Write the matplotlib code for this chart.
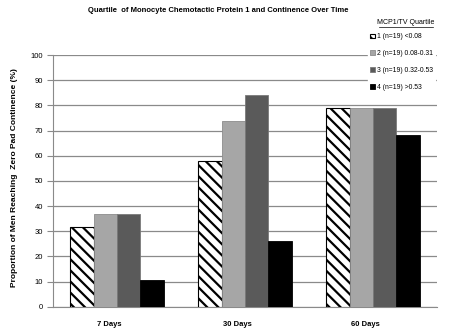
import matplotlib
matplotlib.use("Agg")
import matplotlib.pyplot as plt
import numpy as np

categories = ["7 Days", "30 Days", "60 Days"]
series_labels = ["1 (n=19) <0.08", "2 (n=19) 0.08-0.31", "3 (n=19) 0.32-0.53", "4 (n=19) >0.53"]
q1 = [31.6, 57.9, 78.9]
q2 = [36.8, 73.7, 78.9]
q3 = [36.8, 84.2, 78.9]
q4 = [10.5, 26.3, 68.4]
yticks = [0, 10, 20, 30, 40, 50, 60, 70, 80, 90, 100]

plt.rcParams['font.family'] = ['Liberation Sans', 'DejaVu Sans']
plt.rcParams['hatch.linewidth'] = 1.6

fig = plt.figure(figsize=(4.57, 3.31), dpi=100)
ax = fig.add_axes([53/457, 1 - 306.7/331, (437-53)/457, (306.7-55)/331])

x = np.arange(len(categories))
w = 0.182
offs = [-1.5, -0.5, 0.5, 1.5]
series = [q1, q2, q3, q4]
styles = [
    dict(color="white", edgecolor="black", hatch="\\\\\\", linewidth=0.8),
    dict(color="#A6A6A6", edgecolor="#8C8C8C", linewidth=0.6),
    dict(color="#5A5A5A", edgecolor="#7A7A7A", linewidth=0.6),
    dict(color="black", edgecolor="black", linewidth=0.6),
]
handles = []
for s, o, st, lab in zip(series, offs, styles, series_labels):
    h = ax.bar(x + o * w, s, w, label=lab, zorder=3, **st)
    handles.append(h)

ax.set_xlim(-0.5, 2.5)
ax.set_ylim(0, 100)
ax.set_yticks(yticks)
ax.yaxis.grid(True, color="#8A8A8A", linewidth=0.9, zorder=0)
ax.set_axisbelow(True)
ax.set_xticks(x - 0.06)
ax.set_xticklabels(categories, fontsize=5.5, fontweight="bold")
ax.tick_params(axis="x", length=0, pad=10)
ax.tick_params(axis="y", labelsize=5.5, length=4, color="#8A8A8A", pad=3)
for sp in ["top", "right"]:
    ax.spines[sp].set_visible(False)
ax.spines["left"].set_color("#8A8A8A")
ax.spines["bottom"].set_color("#8A8A8A")

fig.text(218/457, 1 - 10/331, "Quartile  of Monocyte Chemotactic Protein 1 and Continence Over Time",
         ha="center", va="center", fontsize=5.5, fontweight="bold")
fig.text(15/457, 1 - 178/331, "Proportion of Men Reaching  Zero Pad Continence (%)",
         ha="center", va="center", rotation=90, fontsize=6, fontweight="bold")

leg = ax.legend(handles=handles, loc="upper left", bbox_to_anchor=(368/457, 1 - 31/331),
                bbox_transform=fig.transFigure, frameon=True, fontsize=4.9,
                handlelength=0.7, handleheight=0.7, handletextpad=0.25,
                labelspacing=1.45, borderpad=0.35, borderaxespad=0)
leg.get_frame().set_edgecolor("white")
leg.get_frame().set_facecolor("white")
leg.get_frame().set_alpha(1)
leg.get_frame().set_boxstyle("square", pad=0)
leg.set_zorder(5)
fig.text(406/457, 1 - 23/331, "MCP1/TV Quartile", ha="center", va="center",
         fontsize=5, color="black")
fig.add_artist(plt.Line2D([379/457, 433/457], [1 - 27/331, 1 - 27/331], color="black", linewidth=0.5))

fig.savefig("out.png", dpi=100)
